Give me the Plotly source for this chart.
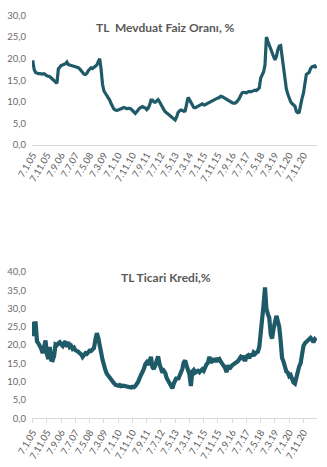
import plotly.graph_objects as go

mevduat = [
    19.6, 17.5, 16.8, 16.6, 16.5, 16.5, 16.4, 16.4, 16.5, 16.2, 16.0, 15.9,
    15.8, 15.5, 15.2, 14.9, 14.6, 14.3, 17.6, 18.0, 18.4, 18.5, 18.6, 18.8,
    19.2, 18.6, 18.5, 18.4, 18.3, 18.2, 18.2, 18.1, 17.9, 17.6, 17.2, 16.8,
    16.4, 16.3, 16.6, 17.2, 17.7, 17.9, 17.7, 18.0, 18.3, 18.5, 19.3, 20.0,
    17.5, 14.0, 12.5, 12.0, 11.6, 11.0, 10.4, 9.6, 8.9, 8.3, 8.1, 8.0,
    8.1, 8.3, 8.5, 8.6, 8.7, 8.6, 8.4, 8.5, 8.5, 8.3, 8.0, 7.5,
    7.3, 7.7, 8.2, 8.5, 8.7, 8.9, 8.7, 8.6, 8.2, 8.5, 9.2, 10.4,
    10.4, 10.0, 9.9, 10.2, 10.5, 10.0, 9.3, 8.8, 8.2, 7.7, 7.5, 7.2,
    6.9, 6.6, 6.3, 6.0, 5.8, 6.5, 7.5, 7.9, 8.1, 8.0, 7.8, 7.9,
    9.5, 11.0, 10.5, 9.8, 9.0, 8.7, 8.6, 8.8, 9.0, 9.0, 9.2, 9.5,
    9.3, 9.3, 9.5, 9.7, 9.9, 10.1, 10.3, 10.4, 10.6, 10.8, 10.9, 11.0,
    11.3, 11.2, 11.0, 10.8, 10.5, 10.2, 10.0, 9.9, 9.8, 9.7, 9.7, 9.9,
    10.3, 10.8, 11.5, 12.1, 12.2, 12.2, 12.1, 12.3, 12.4, 12.3, 12.5, 12.6,
    12.7, 12.6, 12.8, 13.2, 15.5, 16.3, 16.9, 18.5, 25.0, 24.0, 23.0, 22.5,
    21.5, 20.5, 19.7, 20.5, 22.0, 22.9, 23.0, 20.5, 17.5, 14.8, 13.0, 11.8,
    10.6, 10.0, 9.6, 9.4, 9.0, 7.8, 7.5, 7.6, 9.8, 10.8, 12.0, 14.0,
    16.3, 16.6, 16.8, 17.7, 18.1, 18.2, 18.3, 17.8,
]

ticari = [
    26.4, 22.5, 26.5, 21.0, 20.5, 19.8, 19.0, 17.8, 19.5, 21.3, 17.5, 16.2,
    19.5, 16.0, 15.9, 17.0, 20.2, 20.0, 20.5, 20.8, 20.2, 19.8, 20.6, 21.0,
    19.5, 20.8, 19.5, 19.8, 19.0, 19.3, 18.6, 18.5, 18.2, 17.8, 17.5, 16.8,
    17.4, 17.8, 17.6, 18.2, 18.5, 18.4, 19.0, 19.2, 21.5, 23.3, 22.0, 20.5,
    18.0, 16.0, 14.0, 13.2, 12.2, 11.6, 11.0, 10.4, 10.0, 9.6, 9.2, 9.0,
    8.9, 9.1, 8.8, 8.9, 8.7, 8.8, 8.7, 8.6, 8.3, 8.4, 8.6, 8.5,
    8.8, 9.3, 10.0, 11.0, 11.8, 12.4, 13.5, 14.8, 15.3, 14.6, 15.8, 16.8,
    14.0, 13.5, 14.5, 15.6, 16.9, 14.8, 13.2, 12.5, 13.0, 12.4, 11.0, 10.2,
    9.6, 9.1, 8.2, 9.5, 10.8, 11.2, 10.6, 11.6, 12.2, 13.5, 15.3, 15.8,
    14.4, 13.0, 12.0, 8.8, 12.8, 13.2, 12.5, 12.8, 13.0, 12.6, 13.2, 13.4,
    13.0, 14.0, 14.8, 15.2, 16.8, 15.2, 15.8, 16.3, 15.4, 16.4, 15.9, 16.2,
    15.5, 15.0, 14.6, 13.8, 12.6, 14.5, 13.5, 14.2, 14.5, 14.8, 15.0, 15.3,
    15.6, 16.2, 16.8, 16.5, 17.0, 15.6, 16.9, 17.2, 16.4, 17.6, 17.0, 18.0,
    17.6, 18.0, 18.2, 19.5, 22.8, 28.5, 31.0, 35.8, 30.0, 28.5, 27.5, 23.0,
    21.8, 24.5, 27.0, 28.0, 26.5, 25.0, 21.2, 16.5, 15.5, 14.0, 12.8, 12.5,
    11.5, 11.8, 10.2, 9.8, 9.5, 11.5, 13.5, 14.2, 15.0, 18.0, 19.8, 20.5,
    20.9, 21.0, 21.8, 22.0, 21.5, 20.8, 21.6, 21.2,
]

tick_labels = [
    "7.1.05", "7.11.05", "7.9.06", "7.7.07", "7.5.08", "7.3.09", "7.1.10",
    "7.11.10", "7.9.11", "7.7.12", "7.5.13", "7.3.14", "7.1.15", "7.11.15",
    "7.9.16", "7.7.17", "7.5.18", "7.3.19", "7.1.20", "7.11.20",
]
titles = ["TL  Mevduat Faiz Oranı, %", "TL Ticari Kredi,%"]

x = list(range(len(mevduat)))
tickvals = [i * 10 for i in range(len(tick_labels))]

LINE = "#1F5A69"
FONT = "Lato, 'Open Sans', sans-serif"

fig = go.Figure()
fig.add_trace(go.Scatter(x=x, y=mevduat, mode="lines", xaxis="x", yaxis="y",
                         line=dict(color=LINE, width=3.2), showlegend=False))
fig.add_trace(go.Scatter(x=x, y=ticari, mode="lines", xaxis="x2", yaxis="y2",
                         line=dict(color=LINE, width=4.2), showlegend=False))

H = 467
def dom(top_px, bot_px):
    return [1 - bot_px / H, 1 - top_px / H]

xcommon = dict(range=[-0.5, len(x) - 0.5], tickvals=tickvals, ticktext=tick_labels,
               tickangle=-60, showgrid=False, zeroline=False, showline=True,
               linecolor="#D9D9D9", linewidth=1,
               tickfont=dict(family=FONT, size=9.5, color="#595959"), automargin=False)
ycommon = dict(showgrid=False, zeroline=False, showline=False, tickformat=".1f",
               tickfont=dict(family=FONT, size=9.5, color="#6E6A6A"),
               ticklabelstandoff=5, automargin=False)

fig.update_layout(
    width=327, height=467,
    margin=dict(l=32, r=10, t=0, b=0),
    paper_bgcolor="white", plot_bgcolor="white",
    separators=",.",
    xaxis=dict(**xcommon, domain=[0, 1], anchor="y", ticks=""),
    yaxis=dict(**ycommon, domain=dom(15.4, 145), range=[0, 30], dtick=5, anchor="x"),
    xaxis2=dict(**xcommon, domain=[0, 1], anchor="y2", ticks="outside", ticklen=4,
                tickcolor="#D9D9D9"),
    yaxis2=dict(**ycommon, domain=dom(272, 418.3), range=[0, 40], dtick=5, anchor="x2"),
    annotations=[
        dict(text="<b>%s</b>" % titles[0], x=0.47, y=1 - 18 / H, xref="paper", yref="paper",
             showarrow=False, font=dict(family=FONT, size=12, color="#595959")),
        dict(text="<b>%s</b>" % titles[1], x=0.47, y=1 - 277 / H, xref="paper", yref="paper",
             showarrow=False, font=dict(family=FONT, size=12, color="#595959")),
    ],
)

fig.write_html("out.html")
